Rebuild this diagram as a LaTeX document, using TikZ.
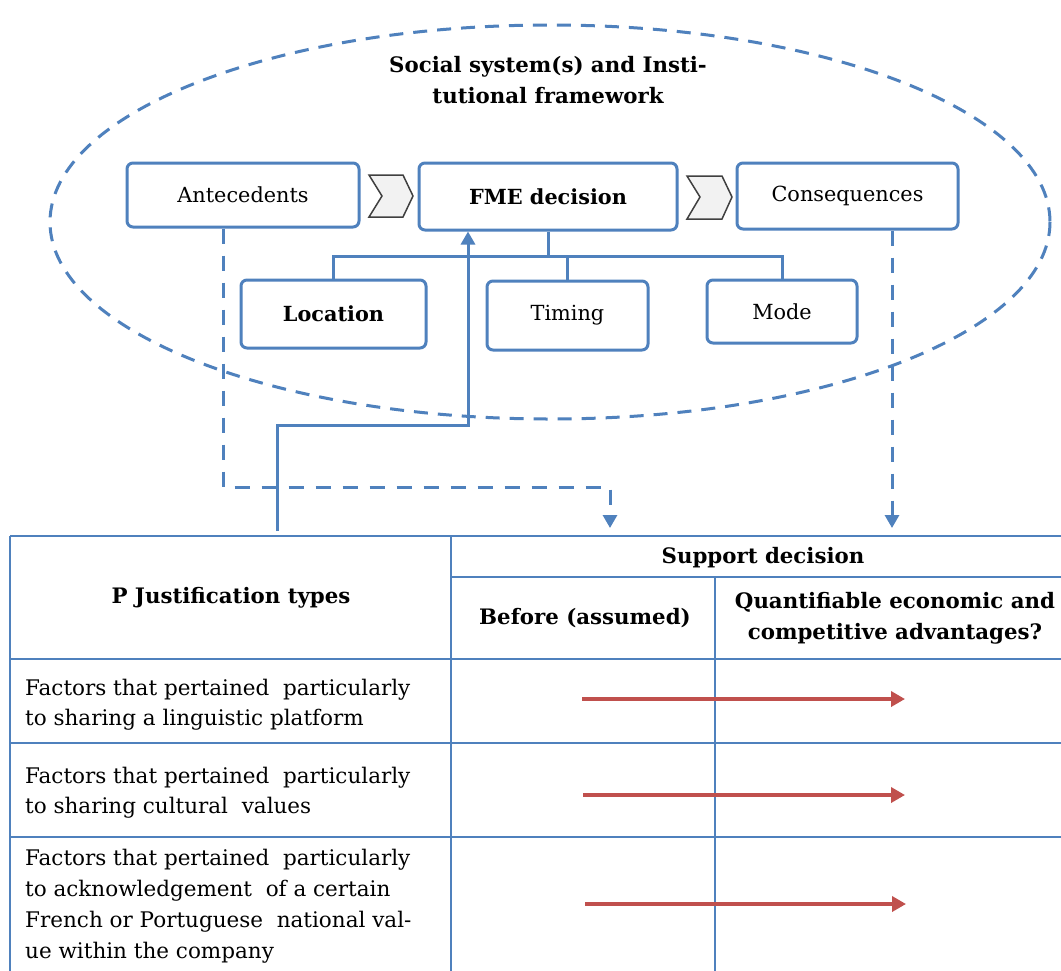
\documentclass[tikz,border=0pt]{standalone}
\usepackage{fontspec}
\setmainfont{DejaVu Serif}
\usetikzlibrary{arrows.meta}
\definecolor{frameblue}{HTML}{4F81BD}
\definecolor{arrowred}{HTML}{C0504D}
\definecolor{chevfill}{HTML}{F2F2F2}
\definecolor{chevline}{HTML}{404040}
\tikzset{
  txt/.style={font=\fontsize{21.5}{30}\selectfont, text=black},
  boldtxt/.style={font=\fontsize{21.3}{31}\selectfont\bfseries, text=black},
  stepbox/.style={draw=frameblue, line width=3pt, rounded corners=6pt, fill=white,
    font=\fontsize{20.8}{30}\selectfont, text=black, inner sep=0pt},
  chevron/.style={draw=chevline, fill=chevfill, line width=1.5pt, line join=miter},
  link/.style={draw=frameblue, line width=3pt},
  dashlink/.style={draw=frameblue, line width=3pt, dash pattern=on 15pt off 12pt},
  bluetip/.style={-{Triangle[length=13pt,width=14pt]}},
  grid/.style={draw=frameblue, line width=1.5pt},
  redarrow/.style={draw=arrowred, line width=3.5pt, -{Triangle[length=14pt,width=15pt]}},
  celltxt/.style={txt, align=left, anchor=west, inner sep=0pt},
}
\begin{document}
\begin{tikzpicture}[x=1pt,y=-1pt]
\clip (0,0) rectangle (1061,970);
\fill[white] (0,0) rectangle (1061,970);

% institutional frame
\draw[frameblue, line width=3pt, dash pattern=on 14pt off 10pt] (550,222) ellipse [x radius=500, y radius=197];
\node[boldtxt, align=center] (frame) at (548,80) {Social system(s) and Insti-\\tutional framework};

% decision chain
\node[stepbox, minimum width=232pt, minimum height=64pt] (ante) at (243,195) {Antecedents};
\node[stepbox, minimum width=258pt, minimum height=67pt, font=\fontsize{20.8}{30}\selectfont\bfseries] (fme) at (548,196.5) {FME decision};
\node[stepbox, minimum width=221pt, minimum height=66pt] (cons) at (847.5,196) {Consequences};

\draw[chevron] (369,175) -- (403,175) -- (413,196) -- (403,217) -- (369,217) -- (382,196) -- cycle;
\draw[chevron] (687,176) -- (722,176) -- (732,197) -- (722,219) -- (687,219) -- (700,197) -- cycle;

% decision dimensions
\node[stepbox, minimum width=185pt, minimum height=68pt, font=\fontsize{20.8}{30}\selectfont\bfseries] (loc) at (333.5,314) {Location};
\node[stepbox, minimum width=161pt, minimum height=69pt] (timing) at (567.5,315.5) {Timing};
\node[stepbox, minimum width=150pt, minimum height=63pt] (mode) at (782,311.5) {Mode};

\coordinate (bar) at (548,256);
\draw[link] (fme.south) -- (fme.south |- bar);
\draw[link, line join=miter] (loc.north) -- (loc.north |- bar) -- (mode.north |- bar) -- (mode.north);
\draw[link] (timing.north) -- (timing.north |- bar);

% table
\draw[grid] (10,536) -- (1070,536);
\draw[grid] (451,577) -- (1070,577);
\draw[grid, line width=2pt] (10,659) -- (1070,659);
\draw[grid, line width=2pt] (10,743) -- (1070,743);
\draw[grid, line width=2pt] (10,837) -- (1070,837);
\draw[grid] (10,536) -- (10,975);
\draw[grid] (451,536) -- (451,975);
\draw[grid] (715,577) -- (715,975);

\node[boldtxt] (hjust) at (231,598) {P Justification types};
\node[boldtxt] (hsupp) at (763,558) {Support decision};
\node[boldtxt] (hbefore) at (585,618) {Before (assumed)};
\node[boldtxt, align=center] (hquant) at (895,618) {Quantifiable economic and\\competitive advantages?};

\node[celltxt] (r1) at (25,705) {Factors that pertained\ \ particularly\\to sharing a linguistic platform};
\node[celltxt] (r2) at (25,792.5) {Factors that pertained\ \ particularly\\to sharing cultural\ \ values};
\node[celltxt, font=\fontsize{21.5}{31}\selectfont] (r3) at (25,906) {Factors that pertained\ \ particularly\\to acknowledgement\ \ of a certain\\French or Portuguese\ \ national val-\\ue within the company};

\coordinate (a1s) at (582,699); \coordinate (a1e) at (905,699);
\coordinate (a2s) at (583,795); \coordinate (a2e) at (905,795);
\coordinate (a3s) at (585,904); \coordinate (a3e) at (906,904);
\draw[redarrow] (a1s) -- (a1e);
\draw[redarrow] (a2s) -- (a2e);
\draw[redarrow] (a3s) -- (a3e);

% feedback and influence connectors
\coordinate (src) at (277,531);
\coordinate (up) at (468,425);
\draw[link, bluetip, line join=miter] (src) |- (up) -- (up |- fme.south);

\coordinate (antedrop) at (223,487);
\coordinate (beforein) at (610,528);
\draw[dashlink, bluetip] (ante.south -| antedrop) -- (antedrop) -| (beforein);

\coordinate (quantin) at (892,528);
\draw[dashlink, bluetip] (cons.south -| quantin) -- (quantin);
\end{tikzpicture}
\end{document}
